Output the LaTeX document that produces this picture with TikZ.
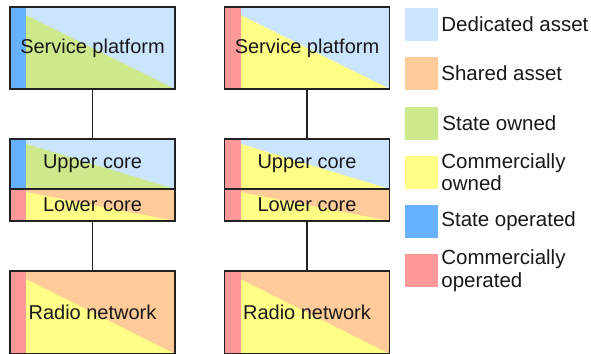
\documentclass[tikz,border=0pt]{standalone}
\usepackage{fontspec}
\setmainfont{Liberation Sans}
\usetikzlibrary{calc}
\definecolor{dedicated}{HTML}{CCE5FF}
\definecolor{shared}{HTML}{FFCC99}
\definecolor{stateown}{HTML}{CDE98C}
\definecolor{commown}{HTML}{FFFF88}
\definecolor{stateop}{HTML}{66B2FF}
\definecolor{commop}{HTML}{FF9999}
\definecolor{edge}{HTML}{222222}

\tikzset{
  % #1 height, #2 operator strip, #3 owner triangle, #4 asset background
  layer/.style n args={4}{rectangle, draw=edge, line width=1.5pt,
    minimum width=165pt, minimum height=#1, inner sep=0pt,
    font=\fontsize{20}{22}\selectfont, text=black!90,
    path picture={
      \fill[#4] (path picture bounding box.north west) rectangle (path picture bounding box.south east);
      \fill[#3] (path picture bounding box.north west) -- (path picture bounding box.south west)
                -- (path picture bounding box.south east) -- cycle;
      \fill[#2] (path picture bounding box.north west) rectangle ($(path picture bounding box.south west)+(16pt,0)$);
    }},
  link/.style={draw=edge, line width=1.5pt},
  swatch/.style={rectangle, minimum width=33pt, minimum height=33pt, inner sep=0pt},
  keytext/.style={anchor=west, inner sep=0pt, align=left,
    font=\fontsize{20.5}{22.5}\selectfont, text=black!90},
}

\begin{document}
\begin{tikzpicture}[x=1pt, y=-1pt]
\useasboundingbox (0,0) rectangle (591,353);

% state-owned stack
\node[layer={82pt}{stateop}{stateown}{dedicated}] (sp1) at (92.5,48) {Service platform};
\node[layer={50pt}{stateop}{stateown}{dedicated}] (uc1) at (92.5,164) {Upper core};
\node[layer={32pt}{commop}{commown}{shared}] (lc1) at (92.5,205) {Lower core};
\node[layer={83pt}{commop}{commown}{shared}] (rn1) at (92.5,312.5) {Radio network};

% commercial stack
\node[layer={82pt}{commop}{commown}{dedicated}] (sp2) at (307,48) {Service platform};
\node[layer={50pt}{commop}{commown}{dedicated}] (uc2) at (307,164) {Upper core};
\node[layer={32pt}{commop}{commown}{shared}] (lc2) at (307,205) {Lower core};
\node[layer={83pt}{commop}{commown}{shared}] (rn2) at (307,312.5) {Radio network};

\draw[link] (sp1) -- (uc1);
\draw[link] (lc1) -- (rn1);
\draw[link] (sp2) -- (uc2);
\draw[link] (lc2) -- (rn2);

% key
\node[swatch, fill=dedicated] (k1) at (421.5,24.5) {};
\node[swatch, fill=shared]    (k2) at (421.5,73.5) {};
\node[swatch, fill=stateown]  (k3) at (421.5,123) {};
\node[swatch, fill=commown]   (k4) at (421.5,172) {};
\node[swatch, fill=stateop]   (k5) at (421.5,221.5) {};
\node[swatch, fill=commop]    (k6) at (421.5,270.5) {};

\node[keytext] (t1) at ($(k1.east)+(3,0)$) {Dedicated asset};
\node[keytext] (t2) at ($(k2.east)+(3,0)$) {Shared asset};
\node[keytext] (t3) at ($(k3.east)+(4,0)$) {State owned};
\node[keytext] (t4) at ($(k4.east)+(3,0)$) {Commercially\\owned};
\node[keytext] (t5) at ($(k5.east)+(3,0)$) {State operated};
\node[keytext] (t6) at ($(k6.east)+(3,0)$) {Commercially\\operated};
\end{tikzpicture}
\end{document}
